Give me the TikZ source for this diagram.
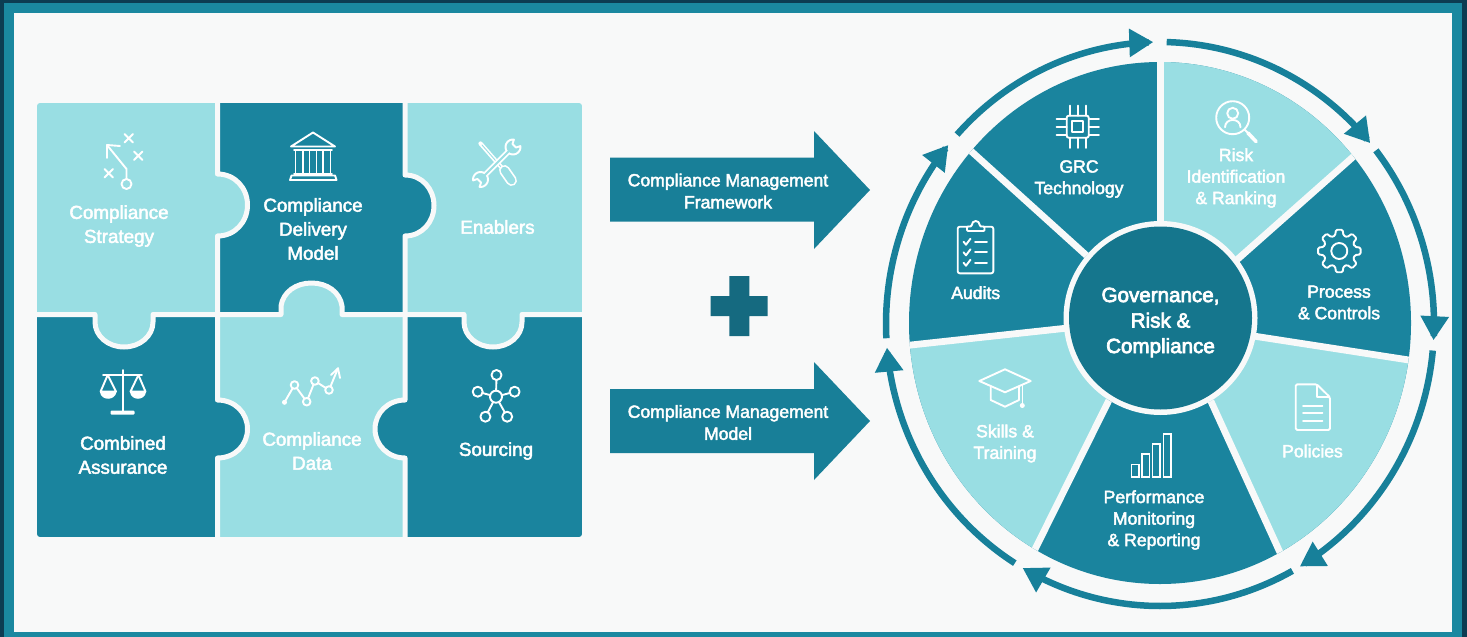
\documentclass[tikz,border=0pt]{standalone}
\usepackage{fontspec}
\usetikzlibrary{arrows.meta}
\newfontfamily\labf[FakeBold=2.5]{Liberation Sans}
\newfontfamily\labh[FakeBold=3.5]{Liberation Sans}
\definecolor{navy}{HTML}{0C3C52}
\definecolor{frameT}{HTML}{1A88A0}
\definecolor{paper}{HTML}{F8F9F9}
\definecolor{dk}{HTML}{1A849E}
\definecolor{lt}{HTML}{99DEE3}
\definecolor{hub}{HTML}{15768D}
\definecolor{ringc}{HTML}{17809A}
\definecolor{arrc}{HTML}{187F98}
\definecolor{plusc}{HTML}{156A80}
\newcommand{\ringarrow}[2]{\draw[ringarr] plot[domain=#1:#2,samples=50] ({1160+274*cos(\x)},{324+282*sin(\x)});}
% wrench head: centre x, centre y, opening direction
\newcommand{\wrenchhead}[3]{\draw[icon,fill=lt] plot[domain=#3+38:#3+322,samples=20] ({#1+7.5*cos(\x)},{#2+7.5*sin(\x)}) -- ({#1+3*cos(#3-55)},{#2+3*sin(#3-55)}) -- ({#1+3*cos(#3+55)},{#2+3*sin(#3+55)}) -- cycle;}
\tikzset{
 icon/.style={draw=white,line width=1.9pt,line cap=round,line join=round},
 pz/.style={text=white,align=center,inner sep=0pt,font=\labf\fontsize{18.8}{24}\selectfont},
 wl/.style={text=white,align=center,inner sep=0pt,font=\labf\fontsize{17.6}{21.5}\selectfont},
 ar/.style={text=white,align=center,inner sep=0pt,font=\labf\fontsize{17.6}{22}\selectfont},
 hb/.style={text=white,align=center,inner sep=0pt,font=\labh\fontsize{20.6}{25.5}\selectfont},
 seam/.style={draw=paper,line width=5pt,line join=round},
 spoke/.style={draw=paper,line width=6.8pt},
 ringarr/.style={draw=ringc,line width=6.5pt,-{Triangle[length=24pt,width=27pt]}},
}
\begin{document}
\begin{tikzpicture}[x=1pt,y=-1pt]
\useasboundingbox (0,0) rectangle (1467,637);
% frame
\fill[navy] (0,0) rectangle (1467,637);
\fill[frameT] (4,3) rectangle (1462,637);
\fill[paper] (14,13) rectangle (1452,632);

% puzzle
\begin{scope}
\clip[rounded corners=3pt] (37,103) rectangle (582,537);
\fill[lt] (37,103) rectangle (217.5,314.5);
\fill[dk] (217.5,103) rectangle (405,314.5);
\fill[lt] (405,103) rectangle (582,314.5);
\fill[dk] (37,314.5) rectangle (217.5,537);
\fill[lt] (217.5,314.5) rectangle (405,537);
\fill[dk] (405,314.5) rectangle (582,537);
% tabs
\fill[lt] (217.5,174) .. controls (235,174) and (247.5,188) .. (247.5,205) .. controls (247.5,222) and (235,236) .. (217.5,236) -- (214,236) -- (214,174) -- cycle;
\fill[dk] (217.5,400) .. controls (235,400) and (247.5,413) .. (247.5,429) .. controls (247.5,445) and (235,458) .. (217.5,458) -- (214,458) -- (214,400) -- cycle;
\fill[dk] (405,175) .. controls (422,175) and (434,189) .. (434,205.5) .. controls (434,222) and (422,236) .. (405,236) -- (401,236) -- (401,175) -- cycle;
\fill[dk] (405,400) .. controls (388,400) and (375,413) .. (375,429) .. controls (375,445) and (388,458) .. (405,458) -- (409,458) -- (409,400) -- cycle;
\fill[lt] (95,311) -- (95,322) .. controls (95,336) and (108,347) .. (124,347) .. controls (140,347) and (153,336) .. (153,322) -- (153,311) -- cycle;
\fill[lt] (281,318) -- (281,306) .. controls (283,292) and (296,283) .. (311.5,283) .. controls (327,283) and (340,292) .. (342,306) -- (342,318) -- cycle;
\fill[lt] (464,311) -- (464,322) .. controls (464,336) and (477,347) .. (493,347) .. controls (509,347) and (522,336) .. (522,322) -- (522,311) -- cycle;
% seams
\draw[seam] (217.5,100) -- (217.5,174) .. controls (235,174) and (247.5,188) .. (247.5,205) .. controls (247.5,222) and (235,236) .. (217.5,236) -- (217.5,400) .. controls (235,400) and (247.5,413) .. (247.5,429) .. controls (247.5,445) and (235,458) .. (217.5,458) -- (217.5,540);
\draw[seam] (405,100) -- (405,175) .. controls (422,175) and (434,189) .. (434,205.5) .. controls (434,222) and (422,236) .. (405,236) -- (405,400) .. controls (388,400) and (375,413) .. (375,429) .. controls (375,445) and (388,458) .. (405,458) -- (405,540);
\draw[seam] (34,314.5) -- (95,314.5) -- (95,322) .. controls (95,336) and (108,347) .. (124,347) .. controls (140,347) and (153,336) .. (153,322) -- (153,314.5) -- (281,314.5) -- (281,306) .. controls (283,292) and (296,283) .. (311.5,283) .. controls (327,283) and (340,292) .. (342,306) -- (342,314.5) -- (464,314.5) -- (464,322) .. controls (464,336) and (477,347) .. (493,347) .. controls (509,347) and (522,336) .. (522,322) -- (522,314.5) -- (585,314.5);
\end{scope}

% strategy icon
\draw[icon] (124.5,134) -- (133,142.5) (133,134) -- (124.5,142.5);
\draw[icon] (134,151.5) -- (142.5,160) (142.5,151.5) -- (134,160);
\draw[icon] (104.5,169) -- (113,177.5) (113,169) -- (104.5,177.5);
\draw[icon] (126.5,184) circle[radius=5pt];
\draw[icon] (126.5,179) -- (126.5,169) -- (107,145);
\draw[icon] (120,146) -- (107,145) -- (107,158);
% temple icon
\draw[icon] (313,132.5) -- (291,146.5) -- (335,146.5) -- cycle;
\draw[icon] (294,150) -- (332,150);
\draw[icon] (295.5,150) -- (295.5,174) (303,150) -- (303,174) (309.5,150) -- (309.5,174) (316.5,150) -- (316.5,174) (323,150) -- (323,174) (330.5,150) -- (330.5,174);
\draw[icon] (294,174) -- (332,174);
\draw[icon] (290,180) -- (291.5,175.5) -- (335,175.5) -- (336.5,180) -- cycle;
% tools icon
\draw[white,line width=4.2pt,line cap=round] (480.5,143.5) -- (502,168);
\draw[lt,line width=0.9pt,line cap=round] (482,145) -- (502,168);
\draw[white,line width=11pt,line cap=round] (504.5,170.5) -- (511.5,180.5);
\draw[lt,line width=7.6pt,line cap=round] (504.5,170.5) -- (511.5,180.5);
\wrenchhead{513}{147}{-45}
\wrenchhead{480.5}{179.5}{135}
\draw[white,line width=5.6pt,line cap=butt] (486,174) -- (507.5,152.5);
\draw[lt,line width=2pt,line cap=butt] (484,176) -- (509.5,150.5);
% scales icon
\draw[icon] (122.8,370) -- (122.8,411);
\draw[icon] (103,375) -- (142,375);
\draw[icon] (107.7,375) -- (100.6,391.5) -- (116,391.5) -- cycle;
\fill[white] (100,392) .. controls (101,401) and (115,401) .. (116.5,392) -- cycle;
\draw[icon] (138.4,375) -- (130.5,391.5) -- (145.5,391.5) -- cycle;
\fill[white] (130,392) .. controls (131,401) and (145,401) .. (146,392) -- cycle;
\fill[white,rounded corners=1pt] (110.5,410.5) rectangle (134.5,414.5);
% data icon
\draw[icon] (284.5,402.3) -- (294.5,385) -- (306.7,401.7) -- (314.9,381) -- (329,390) -- (338,368.3);
\draw[icon] (331,375) -- (338,368.3) -- (340,378);
\fill[white] (284.5,402.3) circle[radius=2.5pt];
\draw[icon,fill=lt] (294.5,385) circle[radius=3.8pt] (306.7,401.7) circle[radius=3.8pt] (314.9,381) circle[radius=3.8pt] (329,390) circle[radius=3.8pt];
% network icon
\draw[icon] (496,396.7) -- (496.5,375) (496,396.7) -- (477.7,391.7) (496,396.7) -- (514.6,391.7) (496,396.7) -- (485.4,416.7) (496,396.7) -- (507.2,416.7);
\draw[icon,fill=dk] (496,396.7) circle[radius=6pt] (496.5,375) circle[radius=5pt] (477.7,391.7) circle[radius=5pt] (514.6,391.7) circle[radius=5pt] (485.4,416.7) circle[radius=5pt] (507.2,416.7) circle[radius=5pt];

% puzzle labels
\node[pz] (strategy) at (119,226) {Compliance\\Strategy};
\node[pz] (delivery) at (313,229) {Compliance\\Delivery\\Model};
\node[pz] (enablers) at (497.5,227) {Enablers};
\node[pz] (assurance) at (123,455) {Combined\\Assurance};
\node[pz] (cdata) at (312,451) {Compliance\\Data};
\node[pz] (sourcing) at (496,451) {Sourcing};

% middle arrows and plus
\fill[arrc] (610,157.5) -- (814,157.5) -- (814,131) -- (870,190) -- (814,249) -- (814,221.5) -- (610,221.5) -- cycle;
\fill[arrc] (610,389) -- (814,389) -- (814,362) -- (870,421) -- (814,480) -- (814,453) -- (610,453) -- cycle;
\fill[plusc] (729.3,276) -- (749.3,276) -- (749.3,296) -- (767.7,296) -- (767.7,316) -- (749.3,316) -- (749.3,336) -- (729.3,336) -- (729.3,316) -- (710.7,316) -- (710.7,296) -- (729.3,296) -- cycle;
\node[ar] (fw) at (728,191) {Compliance Management\\Framework};
\node[ar] (mdl) at (728,422.5) {Compliance Management\\Model};

% wheel
\begin{scope}
\clip (1160,323) ellipse [x radius=251pt,y radius=261pt];
\fill[dk] (900,50) rectangle (1420,600);
\fill[lt] (1160.5,225) -- (1160.5,20) -- (1450,20) -- (1450,71) -- (1235.8,260.8) -- cycle;
\fill[lt] (1250.8,335.6) -- (1480,371) -- (1480,640) -- (1320,640) -- (1210.8,401) -- cycle;
\fill[lt] (1108.8,400.5) -- (990,640) -- (850,640) -- (850,351.6) -- (1068,328) -- cycle;
\draw[spoke] (1160.5,225) -- (1160.5,40);
\draw[spoke] (1235.8,260.8) -- (1450,71);
\draw[spoke] (1250.8,335.6) -- (1480,371);
\draw[spoke] (1210.8,401) -- (1320,640);
\draw[spoke] (1108.8,400.5) -- (990,640);
\draw[spoke] (1068,328) -- (850,351.6);
\draw[spoke] (1086.5,255.5) -- (930,114);
\end{scope}
\fill[paper] (1160.5,318) circle[radius=97pt];
\fill[hub] (1160.5,318) circle[radius=91.5pt];
\node[hb] (hubtext) at (1160.5,322.5) {Governance,\\Risk \&\\Compliance};

% ring arrows
\ringarrow{222.2}{268.6}
\ringarrow{271.4}{320.1}
\ringarrow{322}{363.3}
\ringarrow{365.4}{419.3}
\ringarrow{421.1}{480.1}
\ringarrow{482}{535.2}
\ringarrow{537.1}{579.4}

% chip icon
\draw[icon,rounded corners=2pt] (1066.7,115.7) rectangle (1088.7,137.7);
\draw[icon] (1072.2,121.2) rectangle (1083.2,132.2);
\foreach \d in {-8,0,8}{
 \draw[icon] ({1077.7+\d},115.7) -- ({1077.7+\d},105.5);
 \draw[icon] ({1077.7+\d},137.7) -- ({1077.7+\d},147.9);
 \draw[icon] (1066.7,{126.7+\d}) -- (1056.5,{126.7+\d});
 \draw[icon] (1088.7,{126.7+\d}) -- (1098.9,{126.7+\d});
}
% clipboard icon
\draw[icon,rounded corners=2pt] (957.7,226.7) rectangle (993.3,273.3);
\draw[icon,fill=dk,rounded corners=1pt] (967,231) -- (967,226.5) -- (971.5,226.5) .. controls (972,219.5) and (979.5,219.5) .. (980,226.5) -- (984.5,226.5) -- (984.5,231) -- cycle;
\foreach \yy in {241.7,252.3,262.7}{
 \draw[icon] (963.5,\yy) -- (966,{\yy+3}) -- (970.5,{\yy-3});
 \draw[icon] (975,\yy) -- (987,\yy);
}
% risk icon
\draw[icon] (1232.7,117.7) circle[radius=16.5pt];
\draw[icon] (1232.7,113.3) circle[radius=5.5pt];
\draw[icon] (1225,127.3) .. controls (1225,117.5) and (1240.5,117.5) .. (1240.5,127.3);
\draw[icon] (1244.5,129.5) -- (1248,133);
\draw[icon,line width=3.6pt] (1248,133) -- (1256,141.5);
% gear icon
\draw[icon,rounded corners=1.3pt] ({1339.3+16*cos(-15)},{251+16*sin(-15)})
 \foreach \i in {0,...,7}{
  -- ({1339.3+16*cos(\i*45-15)},{251+16*sin(\i*45-15)})
  -- ({1339.3+21.5*cos(\i*45-9)},{251+21.5*sin(\i*45-9)})
  -- ({1339.3+21.5*cos(\i*45+9)},{251+21.5*sin(\i*45+9)})
  -- ({1339.3+16*cos(\i*45+15)},{251+16*sin(\i*45+15)})
 } -- cycle;
\draw[icon] (1339.3,251) circle[radius=8pt];
% document icon
\draw[icon,rounded corners=1.5pt] (1295.7,384.3) -- (1316.7,384.3) -- (1330,397.3) -- (1330,430) -- (1295.7,430) -- cycle;
\draw[icon] (1316.7,385) -- (1316.7,397.3) -- (1329.5,397.3);
\draw[icon] (1303,406) -- (1322.5,406) (1303,413.3) -- (1322.5,413.3) (1303,421) -- (1322.5,421);
% bars icon
\draw[icon,line join=miter] (1131.5,464.5) rectangle (1139,476.7);
\draw[icon,line join=miter] (1142,454) rectangle (1149.5,476.7);
\draw[icon,line join=miter] (1152.5,444) rectangle (1160,476.7);
\draw[icon,line join=miter] (1163.5,433.7) rectangle (1171,476.7);
% cap icon
\draw[icon] (1005,369.3) -- (979.3,381) -- (1005,392.3) -- (1030.7,381) -- cycle;
\draw[icon] (990.7,387) -- (990.7,400) -- (1005,406.7) -- (1019,400) -- (1019,387);
\draw[icon,line width=1.5pt] (1022.3,385) -- (1022.3,403);
\fill[white] (1022.3,405.5) circle[radius=2.5pt];

% wheel labels
\node[wl] (grc) at (1079,179) {GRC\\Technology};
\node[wl] (audits) at (975.7,292.7) {Audits};
\node[wl] (risk) at (1236,178) {Risk\\Identification\\\& Ranking};
\node[wl] (process) at (1339,302.5) {Process\\\& Controls};
\node[wl] (policies) at (1312.5,451) {Policies};
\node[wl] (perf) at (1154,520) {Performance\\Monitoring\\\& Reporting};
\node[wl] (skills) at (1005,443.5) {Skills \&\\Training};
\end{tikzpicture}
\end{document}
